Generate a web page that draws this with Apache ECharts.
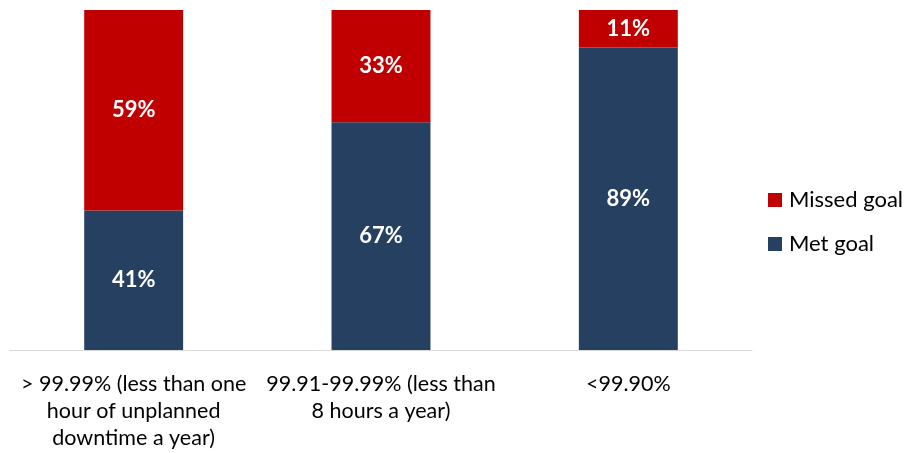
<!DOCTYPE html>
<html>
<head>
<meta charset="utf-8">
<script src="https://cdn.jsdelivr.net/npm/echarts@6/dist/echarts.min.js"></script>
<style>
  html, body { margin: 0; padding: 0; background: #ffffff; }
  #chart { width: 915px; height: 453px; }
</style>
</head>
<body>
<div id="chart"></div>
<script>
// Availability tiers and share of organisations meeting their uptime goal
const categories = [
  '> 99.99% (less than one\nhour of unplanned\ndowntime a year)',
  '99.91-99.99% (less than\n8 hours a year)',
  '<99.90%'
];
const metGoal = [41, 67, 89];
const missedGoal = [59, 33, 11];

const FONT = 'Lato, "Open Sans", sans-serif';
const chart = echarts.init(document.getElementById('chart'));

const labelStyle = {
  show: true,
  position: 'inside',
  formatter: p => p.value + '%',
  color: '#ffffff',
  fontFamily: FONT,
  fontWeight: 'bold',
  fontSize: 22
};

chart.setOption({
  animation: false,
  grid: { left: 10, right: 163, top: 10, bottom: 103 },
  legend: {
    orient: 'vertical',
    left: 763,
    top: 184,
    itemWidth: 14,
    itemHeight: 14,
    itemGap: 22,
    icon: 'rect',
    data: ['Missed goal', 'Met goal'],
    textStyle: { fontFamily: FONT, fontSize: 22, color: '#000000', padding: [0, 0, 0, 2] }
  },
  xAxis: {
    type: 'category',
    data: categories,
    axisLine: { lineStyle: { color: '#d9d9d9', width: 1 } },
    axisTick: { show: false },
    axisLabel: {
      interval: 0,
      margin: 21,
      color: '#000000',
      fontFamily: FONT,
      fontSize: 21.5,
      lineHeight: 27
    }
  },
  yAxis: {
    type: 'value',
    min: 0,
    max: 100,
    show: false,
    splitLine: { show: false }
  },
  series: [
    {
      name: 'Met goal',
      type: 'bar',
      stack: 'total',
      barWidth: '40%',
      data: metGoal,
      itemStyle: { color: '#264061' },
      label: labelStyle
    },
    {
      name: 'Missed goal',
      type: 'bar',
      stack: 'total',
      barWidth: '40%',
      data: missedGoal,
      itemStyle: { color: '#C00000' },
      label: labelStyle
    }
  ]
});
</script>
</body>
</html>
